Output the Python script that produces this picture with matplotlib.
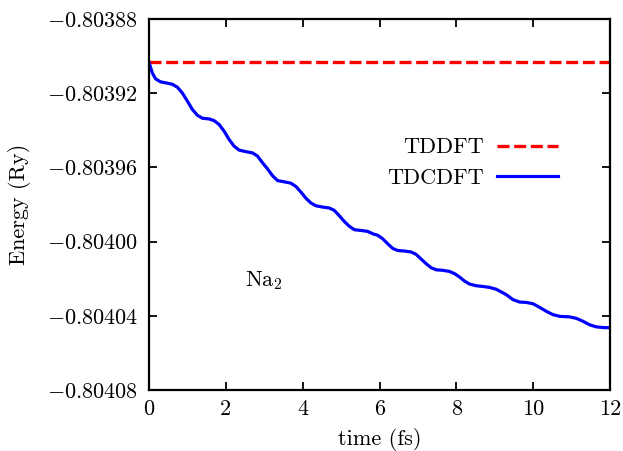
import numpy as np
import matplotlib
matplotlib.use("Agg")
import matplotlib.pyplot as plt

plt.rcParams['font.family'] = 'serif'
plt.rcParams['font.serif'] = ['cmr10', 'DejaVu Serif']
plt.rcParams['mathtext.fontset'] = 'cm'
plt.rcParams['axes.unicode_minus'] = False

# data
tddft_energy = -0.8039034
time_fs = [0.0, 0.086, 0.172, 0.302, 0.477, 0.608, 0.738, 0.868, 0.999, 1.129,
           1.259, 1.390, 1.565, 1.695, 1.825, 1.956, 2.086, 2.216, 2.347, 2.519,
           2.694, 2.824, 2.954, 3.085, 3.215, 3.345, 3.520, 3.692, 3.823, 3.953,
           4.083, 4.214, 4.344, 4.519, 4.694, 4.824, 4.954, 5.085, 5.215, 5.346,
           5.518, 5.692, 5.823, 5.953, 6.083, 6.214, 6.344, 6.474, 6.649, 6.821,
           6.952, 7.082, 7.212, 7.343, 7.473, 7.648, 7.823, 7.953, 8.083, 8.214,
           8.344, 8.516, 8.691, 8.866, 9.038, 9.299, 9.473, 9.648, 9.820, 9.995,
           10.170, 10.342, 10.516, 10.691, 10.952, 11.124, 11.299, 11.473, 11.646,
           11.864, 12.0]
tdcdft = [-0.8039034, -0.8039091, -0.8039123, -0.8039139, -0.8039146,
          -0.8039152, -0.8039168, -0.8039199, -0.8039243, -0.8039288,
          -0.8039319, -0.8039335, -0.8039339, -0.8039348, -0.8039369,
          -0.8039405, -0.8039450, -0.8039486, -0.8039507, -0.8039515,
          -0.8039522, -0.8039539, -0.8039575, -0.8039608, -0.8039645,
          -0.8039671, -0.8039678, -0.8039685, -0.8039703, -0.8039733,
          -0.8039766, -0.8039792, -0.8039807, -0.8039814, -0.8039819,
          -0.8039832, -0.8039861, -0.8039892, -0.8039918, -0.8039936,
          -0.8039940, -0.8039945, -0.8039958, -0.8039966, -0.8039985,
          -0.8040012, -0.8040037, -0.8040048, -0.8040051, -0.8040056,
          -0.8040069, -0.8040094, -0.8040119, -0.8040141, -0.8040152,
          -0.8040155, -0.8040161, -0.8040173, -0.8040191, -0.8040213,
          -0.8040229, -0.8040238, -0.8040242, -0.8040247, -0.8040257,
          -0.8040286, -0.8040313, -0.8040326, -0.8040328, -0.8040335,
          -0.8040355, -0.8040376, -0.8040394, -0.8040403, -0.8040406,
          -0.8040414, -0.8040430, -0.8040449, -0.8040460, -0.8040464,
          -0.8040464]
xticks = [0, 2, 4, 6, 8, 10, 12]
yticks = [-0.80408, -0.80404, -0.80400, -0.80396, -0.80392, -0.80388]
ytick_labels = ['$-0.80408$', '$-0.80404$', '$-0.80400$', '$-0.80396$',
                '$-0.80392$', '$-0.80388$']

fig = plt.figure(figsize=(6.23, 4.51), dpi=100)
ax = fig.add_axes([0.2392, 0.1353, 0.74, 0.8226])

ax.plot([0, 12], [tddft_energy, tddft_energy], color='#ff0000', lw=2.4,
        dashes=(3.6, 1.4), label='TDDFT', solid_capstyle='butt')
ax.plot(time_fs, tdcdft, color='#0000ff', lw=2.3, label='TDCDFT',
        solid_joinstyle='round')

ax.set_xlim(0, 12)
ax.set_ylim(-0.80408, -0.80388)
ax.set_xticks(xticks)
ax.set_xticklabels([str(x) for x in xticks])
ax.set_yticks(yticks)
ax.set_yticklabels(ytick_labels)
ax.tick_params(direction='in', top=True, right=True, length=6, width=1.3,
               labelsize=16)
ax.tick_params(axis='x', pad=7)
ax.tick_params(axis='y', pad=8)
for s in ax.spines.values():
    s.set_linewidth(1.6)

ax.set_xlabel('time (fs)', fontsize=16, labelpad=6)
ax.set_ylabel('Energy (Ry)', fontsize=16, labelpad=11)
ax.text(3.0, -0.804021, r'$\mathrm{Na}_2$', fontsize=16, ha='center', va='center')

ax.legend(loc='center right', bbox_to_anchor=(558 / 623, (451 - 163) / 451),
          bbox_transform=fig.transFigure, frameon=False, markerfirst=False,
          fontsize=16, handlelength=2.75, handletextpad=0.6, labelspacing=0.5,
          borderpad=0, borderaxespad=0)

fig.savefig('out.png', dpi=100)
